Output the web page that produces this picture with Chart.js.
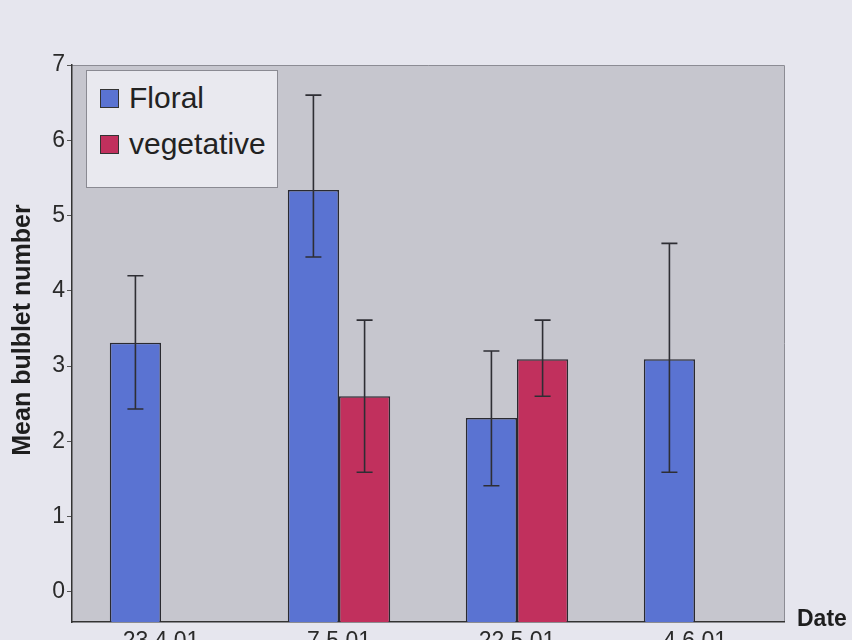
<!DOCTYPE html>
<html>
<head>
<meta charset="utf-8">
<script src="https://cdn.jsdelivr.net/npm/chart.js@4"></script>
<style>
  html, body { margin: 0; padding: 0; width: 852px; height: 640px; overflow: hidden; background: #e6e6ee; }
  #wrap { position: relative; width: 852px; height: 660px; }
  #legend {
    position: absolute; left: 86px; top: 70px; width: 192px; height: 118px;
    background: #e9e9ef; border: 1px solid #8a8a92; box-sizing: border-box;
    font-family: "Liberation Sans", Arial, sans-serif; font-size: 30px; color: #222;
  }
  .item { position: absolute; left: 13px; display: flex; align-items: center; height: 30px; }
  .sw { width: 19px; height: 19px; border: 1.5px solid #333; box-sizing: border-box; margin-right: 10px; }
</style>
</head>
<body>
<div id="wrap">
  <canvas id="c" width="852" height="660"></canvas>
  <div id="legend"></div>
</div>
<script>
// ---- data ----
const categories = ["23 4 01", "7 5 01", "22 5 01", "4 6 01"];
const seriesNames = ["Floral", "vegetative"];
const floralMean = [3.31, 5.34, 2.31, 3.09];
const floralLow  = [2.43, 4.45, 1.41, 1.59];
const floralHigh = [4.20, 6.60, 3.20, 4.63];
const vegMean = [null, 2.60, 3.09, null];
const vegLow  = [null, 1.59, 2.60, null];
const vegHigh = [null, 3.61, 3.61, null];
const yTicks = [0, 1, 2, 3, 4, 5, 6, 7];
const yTitle = "Mean bulblet number";
const xTitle = "Date";

const blue = "#5a73d2";
const red = "#c1305d";
const font = "'Liberation Sans', Arial, sans-serif";

const errLows = [floralLow, vegLow];
const errHighs = [floralHigh, vegHigh];

const bgPlugin = {
  id: "bg",
  beforeDraw(chart) {
    const { ctx, chartArea: a } = chart;
    ctx.save();
    ctx.fillStyle = "#c6c6ce";
    ctx.fillRect(a.left, a.top, a.right - a.left, a.bottom - a.top);
    ctx.strokeStyle = "#8c8c94";
    ctx.lineWidth = 1;
    ctx.beginPath();
    ctx.moveTo(a.left, a.top + 0.5);
    ctx.lineTo(a.right + 0.5, a.top + 0.5);
    ctx.lineTo(a.right + 0.5, a.bottom);
    ctx.stroke();
    ctx.restore();
  }
};

const errPlugin = {
  id: "err",
  afterDatasetsDraw(chart) {
    const { ctx } = chart;
    const y = chart.scales.y;
    ctx.save();
    ctx.strokeStyle = "#2e2e34";
    ctx.lineWidth = 1.6;
    chart.data.datasets.forEach((ds, di) => {
      const meta = chart.getDatasetMeta(di);
      meta.data.forEach((el, i) => {
        const lo = errLows[di][i], hi = errHighs[di][i];
        if (lo == null || hi == null) return;
        const x = el.x;
        const y1 = y.getPixelForValue(lo), y2 = y.getPixelForValue(hi);
        ctx.beginPath();
        ctx.moveTo(x, y1); ctx.lineTo(x, y2);
        ctx.moveTo(x - 8, y1); ctx.lineTo(x + 8, y1);
        ctx.moveTo(x - 8, y2); ctx.lineTo(x + 8, y2);
        ctx.stroke();
      });
    });
    ctx.restore();
  }
};

const titlesPlugin = {
  id: "titles",
  afterDraw(chart) {
    const { ctx } = chart;
    ctx.save();
    ctx.fillStyle = "#1e1e1e";
    ctx.font = "bold 23px " + font;
    ctx.textAlign = "left";
    ctx.textBaseline = "middle";
    ctx.fillText(xTitle, 797, 620);
    ctx.translate(23, 330);
    ctx.rotate(-Math.PI / 2);
    ctx.font = "bold 25px " + font;
    ctx.textAlign = "center";
    ctx.fillText(yTitle, 0, 0);
    ctx.restore();
  }
};

const chart = new Chart(document.getElementById("c"), {
  type: "bar",
  data: {
    labels: categories,
    datasets: [
      { label: seriesNames[0], data: floralMean, backgroundColor: blue, borderColor: "#2a2a30", borderWidth: 1.5, base: -0.4 },
      { label: seriesNames[1], data: vegMean, backgroundColor: red, borderColor: "#2a2a30", borderWidth: 1.5, base: -0.4 }
    ]
  },
  options: {
    responsive: false,
    animation: false,
    events: [],
    layout: { padding: { top: 65, right: 68, left: 0, bottom: 0 } },
    datasets: { bar: { categoryPercentage: 0.575, barPercentage: 1.0 } },
    plugins: { legend: { display: false }, tooltip: { enabled: false } },
    scales: {
      x: {
        grid: { display: false, drawTicks: false },
        border: { display: true, color: "#333", width: 1.5 },
        ticks: { color: "#2a2a2a", font: { family: font, size: 23 }, padding: 6, maxRotation: 0 },
        afterFit(s) { s.height = 38; }
      },
      y: {
        min: -0.4, max: 7,
        afterBuildTicks(s) { s.ticks = yTicks.map(v => ({ value: v })); },
        grid: { display: true, drawOnChartArea: false, tickLength: 5, color: "#555" },
        border: { display: true, color: "#333", width: 1.5 },
        ticks: { color: "#2a2a2a", font: { family: font, size: 23 }, padding: 2 },
        afterFit(s) { s.width = 72; }
      }
    }
  },
  plugins: [bgPlugin, errPlugin, titlesPlugin]
});

// HTML legend built from the chart's datasets
const leg = document.getElementById("legend");
chart.data.datasets.forEach((ds, i) => {
  const it = document.createElement("div");
  it.className = "item";
  it.style.top = (i === 0 ? 12 : 58) + "px";
  const sw = document.createElement("span");
  sw.className = "sw";
  sw.style.background = ds.backgroundColor;
  const tx = document.createElement("span");
  tx.textContent = ds.label;
  it.appendChild(sw); it.appendChild(tx);
  leg.appendChild(it);
});
</script>
</body>
</html>
